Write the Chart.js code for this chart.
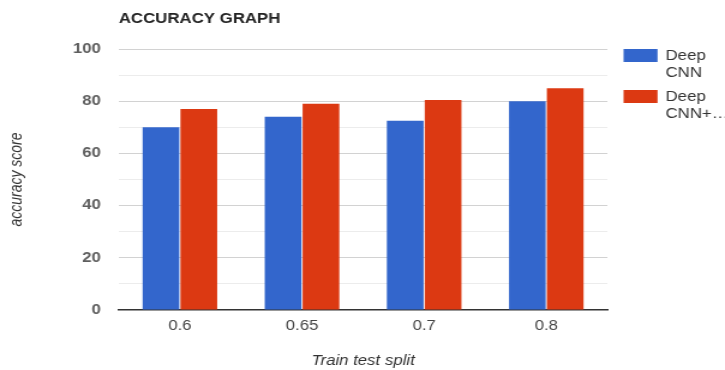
<!DOCTYPE html>
<html>
<head>
<meta charset="utf-8">
<script src="https://cdn.jsdelivr.net/npm/chart.js@4/dist/chart.umd.min.js"></script>
<style>
  html, body { margin: 0; padding: 0; background: #fff; overflow: hidden; }
  /* the chart is drawn narrower and widened to the 725px frame */
  #wrap { width: 604px; height: 370px; transform: scaleX(1.2003); transform-origin: 0 0; }
</style>
</head>
<body>
<div id="wrap"><canvas id="c" width="604" height="370"></canvas></div>
<script>
const categories = ['0.6', '0.65', '0.7', '0.8'];
const deepCnn = [70, 74, 72.5, 80];
const deepCnnPlus = [77, 79, 80.5, 85];
const seriesNames = ['Deep CNN', 'Deep CNN+…'];
const yTicks = [0, 20, 40, 60, 80, 100];

const FONT = '"Liberation Sans", Arial, sans-serif';

// Heading and a right-hand legend with wrapped labels
const decorations = {
  id: 'decorations',
  afterDraw(chart) {
    const ctx = chart.ctx;
    const area = chart.chartArea;
    ctx.save();
    ctx.fillStyle = '#222';
    ctx.font = 'bold 14px ' + FONT;
    ctx.textBaseline = 'middle';
    ctx.textAlign = 'left';
    ctx.fillText('ACCURACY GRAPH', area.left, 19.5);

    ctx.font = '14px ' + FONT;
    chart.data.datasets.forEach((ds, i) => {
      const top = area.top + i * 41;
      const boxX = area.right + 13.5;
      ctx.fillStyle = ds.backgroundColor;
      ctx.fillRect(boxX, top, 28.3, 13);
      ctx.fillStyle = '#333';
      ds.label.split(' ').forEach((word, j) => {
        ctx.fillText(word, boxX + 35, top + 7 + j * 17.5);
      });
    });
    ctx.restore();
  }
};

new Chart(document.getElementById('c'), {
  type: 'bar',
  data: {
    labels: categories,
    datasets: [
      { label: seriesNames[0], data: deepCnn, backgroundColor: '#3366CC', borderWidth: 0 },
      { label: seriesNames[1], data: deepCnnPlus, backgroundColor: '#DC3912', borderWidth: 0 }
    ]
  },
  options: {
    responsive: false,
    animation: false,
    layout: { padding: { top: 49, right: 98, left: 0, bottom: 0 } },
    datasets: { bar: { categoryPercentage: 0.62, barPercentage: 0.97 } },
    plugins: {
      legend: { display: false },
      title: { display: false },
      tooltip: { enabled: false }
    },
    scales: {
      x: {
        grid: { display: false, drawTicks: false },
        border: { display: true, color: '#333', width: 1.5 },
        ticks: { color: '#444', font: { family: FONT, size: 14 }, padding: 8 },
        title: {
          display: true, text: 'Train test split', color: '#333',
          font: { family: FONT, size: 14, style: 'italic' },
          padding: { top: 1, bottom: 0 }
        },
        afterFit(scale) { scale.height = 60; }
      },
      y: {
        min: 0, max: 100,
        ticks: {
          stepSize: 10,
          color: '#5f5f5f',
          font: { family: FONT, size: 14, weight: 'bold' },
          padding: 15,
          callback: (v) => (yTicks.includes(v) ? v : '')
        },
        grid: {
          drawTicks: false,
          color: (c) => (c.tick && c.tick.value === 0 ? 'rgba(0,0,0,0)' :
                         (c.tick && c.tick.value % 20 === 0 ? '#d2d2d2' : '#ececec'))
        },
        border: { display: false },
        title: {
          display: true, text: 'accuracy score', color: '#333',
          font: { family: FONT, size: 14, style: 'italic' },
          padding: { top: 6, bottom: 0 }
        },
        afterFit(scale) { scale.width = 99; }
      }
    }
  },
  plugins: [decorations]
});
</script>
</body>
</html>
